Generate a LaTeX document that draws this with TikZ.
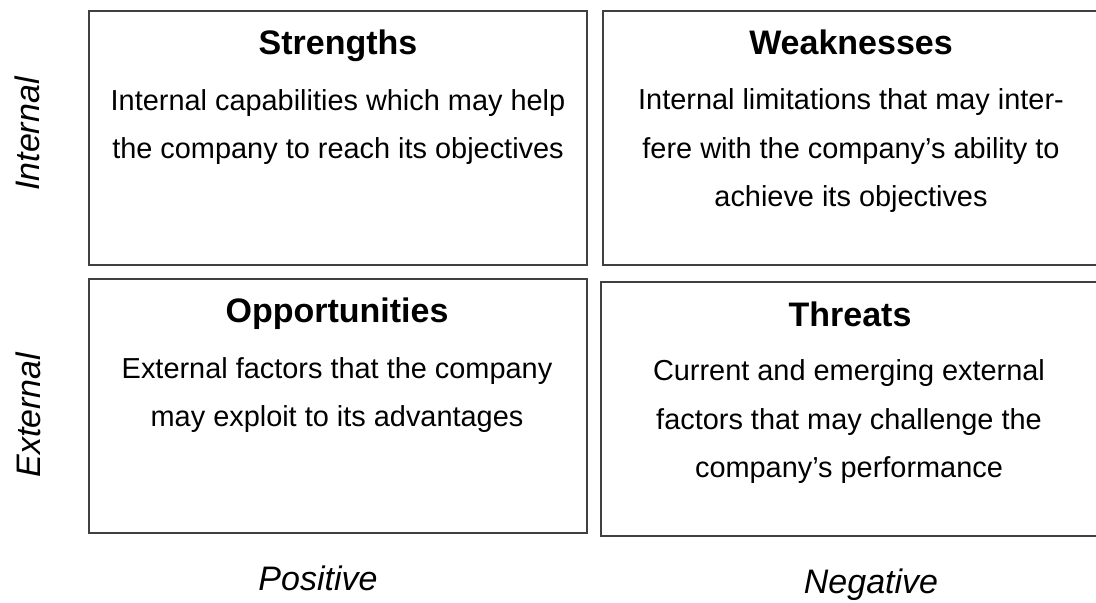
\documentclass[tikz,border=0pt]{standalone}
\usepackage{fontspec}
\setmainfont{Liberation Sans}
\usepackage{tikz}
\usetikzlibrary{calc}
\definecolor{edgegray}{HTML}{404040}

\begin{document}
\begin{tikzpicture}[
    x=0.5pt,y=-0.5pt,
    quad/.style={draw=edgegray,line width=1pt,minimum width=249pt,minimum height=127pt,inner sep=0pt},
    title/.style={font=\fontsize{17}{20}\selectfont\bfseries,anchor=base},
    body/.style={font=\fontsize{14.45}{24.25}\selectfont,align=center},
    axis/.style={font=\fontsize{17}{20}\selectfont\itshape}
  ]
    \useasboundingbox (0,0) rectangle (1096,602);
    % the four quadrants
    \node[quad] (str) at (338,138) {};
    \node[quad] (weak) at (852,138) {};
    \node[quad] (opp) at (338,406) {};
    \node[quad] (thr) at (850,409) {};

    \node[title] (strT) at ($(str.north)+(0,44)$) {Strengths};
    \node[title] (weakT) at ($(weak.north)+(-1,44)$) {Weaknesses};
    \node[title] (oppT) at ($(opp.north)+(-1,44)$) {Opportunities};
    \node[title] (thrT) at ($(thr.north)+(0,45)$) {Threats};

    \node[body] (strB) at (338,127)
      {Internal capabilities which may help\\the company to reach its objectives};
    \node[body] (weakB) at (851,151)
      {Internal limitations that may inter-\\fere with the company’s ability to\\achieve its objectives};
    \node[body] (oppB) at (337,395)
      {External factors that the company\\may exploit to its advantages};
    \node[body] (thrB) at (849,422)
      {Current and emerging external\\factors that may challenge the\\company’s performance};

    % axis labels
    \node[axis,rotate=90] (internal) at (27,134) {Internal};
    \node[axis,rotate=90] (external) at (28,415) {External};
    \node[axis] (positive) at (318,578) {Positive};
    \node[axis] (negative) at (871,585) {Negative};
  \end{tikzpicture}
\end{document}
